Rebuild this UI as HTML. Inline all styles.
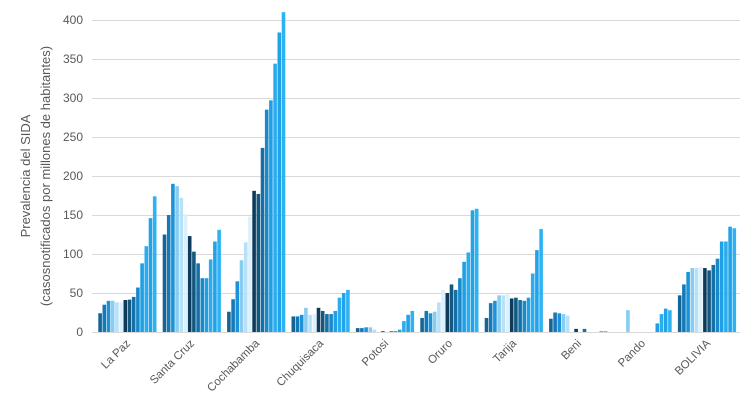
<!DOCTYPE html>
<html><head><meta charset="utf-8"><style>
html,body{margin:0;padding:0;background:#fff;}
svg{display:block;font-family:"Liberation Sans",sans-serif;}
</style></head><body>
<svg id="c" width="750" height="410" viewBox="0 0 750 410">
<g stroke="#d9d9d9" stroke-width="1">
<line x1="92" x2="740" y1="20.5" y2="20.5"/><line x1="92" x2="740" y1="59.5" y2="59.5"/>
<line x1="92" x2="740" y1="98.5" y2="98.5"/><line x1="92" x2="740" y1="137.5" y2="137.5"/>
<line x1="92" x2="740" y1="176.5" y2="176.5"/><line x1="92" x2="740" y1="215.5" y2="215.5"/>
<line x1="92" x2="740" y1="254.5" y2="254.5"/><line x1="92" x2="740" y1="293.5" y2="293.5"/>
<line x1="92" x2="740" y1="332.5" y2="332.5"/>
</g>
<g font-size="12" fill="#595959" text-anchor="end">
<text x="83" y="24">400</text><text x="83" y="63">350</text><text x="83" y="102">300</text>
<text x="83" y="141">250</text><text x="83" y="180">200</text><text x="83" y="219">150</text>
<text x="83" y="258">100</text><text x="83" y="297">50</text><text x="83" y="336">0</text>
</g>
<g font-size="13" fill="#595959" text-anchor="middle">
<text transform="translate(30,176) rotate(-90)">Prevalencia del SIDA</text>
<text transform="translate(50,176) rotate(-90)">(casosnotificados por millones de habitantes)</text>
</g>
<g id="bars"></g>
<g font-size="11.5" fill="#595959" text-anchor="end">
<text transform="translate(131,344) rotate(-45)">La Paz</text>
<text transform="translate(195,344) rotate(-45)">Santa Cruz</text>
<text transform="translate(260,344) rotate(-45)">Cochabamba</text>
<text transform="translate(324,344) rotate(-45)">Chuquisaca</text>
<text transform="translate(389,344) rotate(-45)">Potosi</text>
<text transform="translate(453,344) rotate(-45)">Oruro</text>
<text transform="translate(517,344) rotate(-45)">Tarija</text>
<text transform="translate(582,344) rotate(-45)">Beni</text>
<text transform="translate(646,344) rotate(-45)">Pando</text>
<text transform="translate(711,344) rotate(-45)">BOLIVIA</text>
</g>
</svg>
<script>
var d=[
[24,35,40,40,38,38,41,41.5,45,57,88,110,146,174],
[125,150,190,187,172,151,123,103,88,69,69,93,116,131],
[26,42,65,92,115,148,181,177,236,285,297,344,384,410],
[20,20,22,31,22,23,31,27,23,23,27,44,50,54],
[5,5,6,6,3,0,1,0,1,1,3,14,22,27],
[18,27,24,26,38,54,50,61,54,69,90,102,156,158],
[18,37,40,47,47,49,43,44,41,40,44,75,105,132],
[17,25,24,23,21,0,4,0,4,0,0,0,1,1],
[0,0,0,28,0,0,0,0,0,0,11,23,30,28],
[47,61,77,82,82,83,82,79,86,94,116,116,135,133]];
var col=["#156496","#1478b9","#1c93d9","#88cdf1","#b8e0f7","#ddf1fc","#0e3b5c","#13587f","#1670a7","#1a89ca","#1f9fe4","#2aacef","#22a3e8","#2db2f4"];
var s="";
for(var g=0;g<10;g++)for(var i=0;i<14;i++){var v=d[g][i];if(!v)continue;var h=v*0.78;
var x=98.3+g*64.4+i*4.2;s+='<rect x="'+x.toFixed(2)+'" y="'+(332-h).toFixed(2)+'" width="3.6" height="'+h.toFixed(2)+'" fill="'+col[i]+'"/>';}
document.getElementById("bars").innerHTML=s;
</script>
</body></html>
